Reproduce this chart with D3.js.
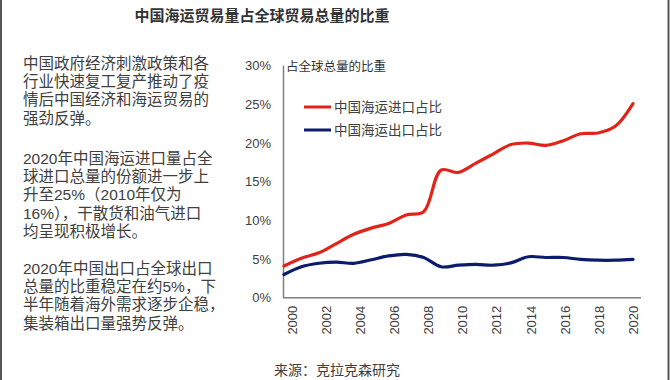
<!DOCTYPE html>
<html>
<head>
<meta charset="utf-8">
<script src="https://cdn.jsdelivr.net/npm/d3@7"></script>
<style>
  body { margin: 0; background: #fff; }
  svg { display: block; }
</style>
</head>
<body>
<svg id="chart"></svg>
<script>
var WIDTH = 670;
var HEIGHT = 380;

// data
var years = d3.range(2000, 2021);
var importShare = [4.1, 5.1, 5.8, 7.0, 8.2, 9.0, 9.6, 10.7, 11.1, 16.5, 16.2, 17.4, 18.6, 19.8, 20.0, 19.7, 20.3, 21.2, 21.3, 22.2, 25.1];
var exportShare = [3.0, 4.0, 4.45, 4.6, 4.45, 4.9, 5.4, 5.6, 5.2, 4.0, 4.2, 4.3, 4.2, 4.5, 5.3, 5.2, 5.2, 4.95, 4.85, 4.85, 4.95];
var seriesNames = ['中国海运进口占比', '中国海运出口占比'];
var seriesColors = ['#e2231a', '#0c1c6c'];
var yTicks = [0, 5, 10, 15, 20, 25, 30];
var xTicks = [2000, 2002, 2004, 2006, 2008, 2010, 2012, 2014, 2016, 2018, 2020];

var title = '中国海运贸易量占全球贸易总量的比重';
var yTitle = '占全球总量的比重';
var source = '来源：克拉克森研究';
var paragraphs = [
  ['中国政府经济刺激政策和各', '行业快速复工复产推动了疫', '情后中国经济和海运贸易的', '强劲反弹。'],
  ['2020年中国海运进口量占全', '球进口总量的份额进一步上', '升至25%（2010年仅为', '16%），干散货和油气进口', '均呈现积极增长。'],
  ['2020年中国出口占全球出口', '总量的比重稳定在约5%，下', '半年随着海外需求逐步企稳，', '集装箱出口量强势反弹。']
];

var CJK = '"Noto Sans CJK SC", "Noto Sans", sans-serif';
var LATIN = '"Liberation Sans", Arial, sans-serif';
var MIXED = '"Liberation Sans", "Noto Sans CJK SC", sans-serif';

var svg = d3.select('#chart')
  .attr('width', WIDTH)
  .attr('height', HEIGHT);

// side borders of the slide
svg.append('line').attr('x1', 1).attr('x2', 1).attr('y1', 0).attr('y2', HEIGHT)
  .attr('stroke', '#555').attr('stroke-width', 2);
svg.append('line').attr('x1', 668.5).attr('x2', 668.5).attr('y1', 0).attr('y2', HEIGHT)
  .attr('stroke', '#555').attr('stroke-width', 2);

svg.append('text')
  .attr('x', 262).attr('y', 21)
  .attr('text-anchor', 'middle')
  .style('font-family', CJK).style('font-size', '15px').style('font-weight', 'bold')
  .attr('fill', '#333')
  .text(title);

// left commentary, one text per paragraph
var lineH = 18.4;
var paraTop = [68.5, 163.5, 273.5];
paragraphs.forEach(function(lines, p){
  svg.append('text')
    .attr('x', 23).attr('y', paraTop[p])
    .style('font-family', MIXED).style('font-size', '15.5px')
    .attr('fill', '#404040')
    .selectAll('tspan').data(lines).enter()
    .append('tspan')
    .attr('x', 23)
    .attr('y', function(d, i){ return paraTop[p] + i * lineH; })
    .text(function(d){ return d; });
});

var xScale = d3.scaleLinear().domain([2000, 2020]).range([284, 633]);
var labelScale = d3.scaleLinear().domain([2000, 2020]).range([291.5, 633]);
var yScale = d3.scaleLinear().domain([0, 30]).range([297.7, 65.7]);

var leftAxis = d3.axisLeft(yScale)
  .tickValues(yTicks)
  .tickSize(0)
  .tickPadding(13)
  .tickFormat(function(d){ return d + '%'; });
var yAxisG = svg.append('g')
  .attr('transform', 'translate(' + xScale.range()[0] + ',0)')
  .call(leftAxis);
yAxisG.select('.domain').remove();
yAxisG.selectAll('text')
  .style('font-family', LATIN).style('font-size', '13px')
  .attr('fill', '#404040');

var bottomAxis = d3.axisBottom(labelScale)
  .tickValues(xTicks)
  .tickSize(0)
  .tickFormat(d3.format('d'));
var xAxisG = svg.append('g')
  .attr('transform', 'translate(0,' + yScale(0) + ')')
  .call(bottomAxis);
xAxisG.select('.domain').remove();
xAxisG.selectAll('text')
  .attr('transform', 'rotate(-90)')
  .attr('x', -8).attr('y', 0).attr('dy', '0.35em')
  .attr('text-anchor', 'end')
  .style('font-family', LATIN).style('font-size', '13px')
  .attr('fill', '#404040');

// axis frame lines
svg.append('line')
  .attr('x1', xScale.range()[0] - 1).attr('x2', xScale.range()[1] + 8)
  .attr('y1', yScale(0)).attr('y2', yScale(0))
  .attr('stroke', '#7f7f7f').attr('stroke-width', 1.5);
svg.append('line')
  .attr('x1', xScale.range()[0] - 0.5).attr('x2', xScale.range()[0] - 0.5)
  .attr('y1', yScale(30)).attr('y2', yScale(0))
  .attr('stroke', '#7f7f7f').attr('stroke-width', 1.5);

svg.append('text')
  .attr('x', xScale.range()[0] + 2).attr('y', 71)
  .style('font-family', CJK).style('font-size', '12.5px')
  .attr('fill', '#333')
  .text(yTitle);

var line = d3.line()
  .x(function(d){ return xScale(d.year); })
  .y(function(d){ return yScale(d.value); })
  .curve(d3.curveCatmullRom.alpha(0.5));

[importShare, exportShare].forEach(function(values, s){
  var pts = years.map(function(y, i){ return { year: y, value: values[i] }; });
  svg.append('path')
    .datum(pts)
    .attr('d', line)
    .attr('fill', 'none')
    .attr('stroke', seriesColors[s])
    .attr('stroke-width', 3.2)
    .attr('stroke-linejoin', 'round')
    .attr('stroke-linecap', 'round');
});

// legend
var legend = svg.append('g').selectAll('g').data(seriesNames).enter()
  .append('g')
  .attr('transform', function(d, i){ return 'translate(304,' + (107 + i * 23) + ')'; });
legend.append('line')
  .attr('x1', 0).attr('x2', 27)
  .attr('stroke', function(d, i){ return seriesColors[i]; })
  .attr('stroke-width', 3);
legend.append('text')
  .attr('x', 30).attr('dy', '0.35em')
  .style('font-family', CJK).style('font-size', '13.5px')
  .attr('fill', '#404040')
  .text(function(d){ return d; });

svg.append('text')
  .attr('x', 274).attr('y', 375)
  .style('font-family', CJK).style('font-size', '14px')
  .attr('fill', '#404040')
  .text(source);
</script>
</body>
</html>
